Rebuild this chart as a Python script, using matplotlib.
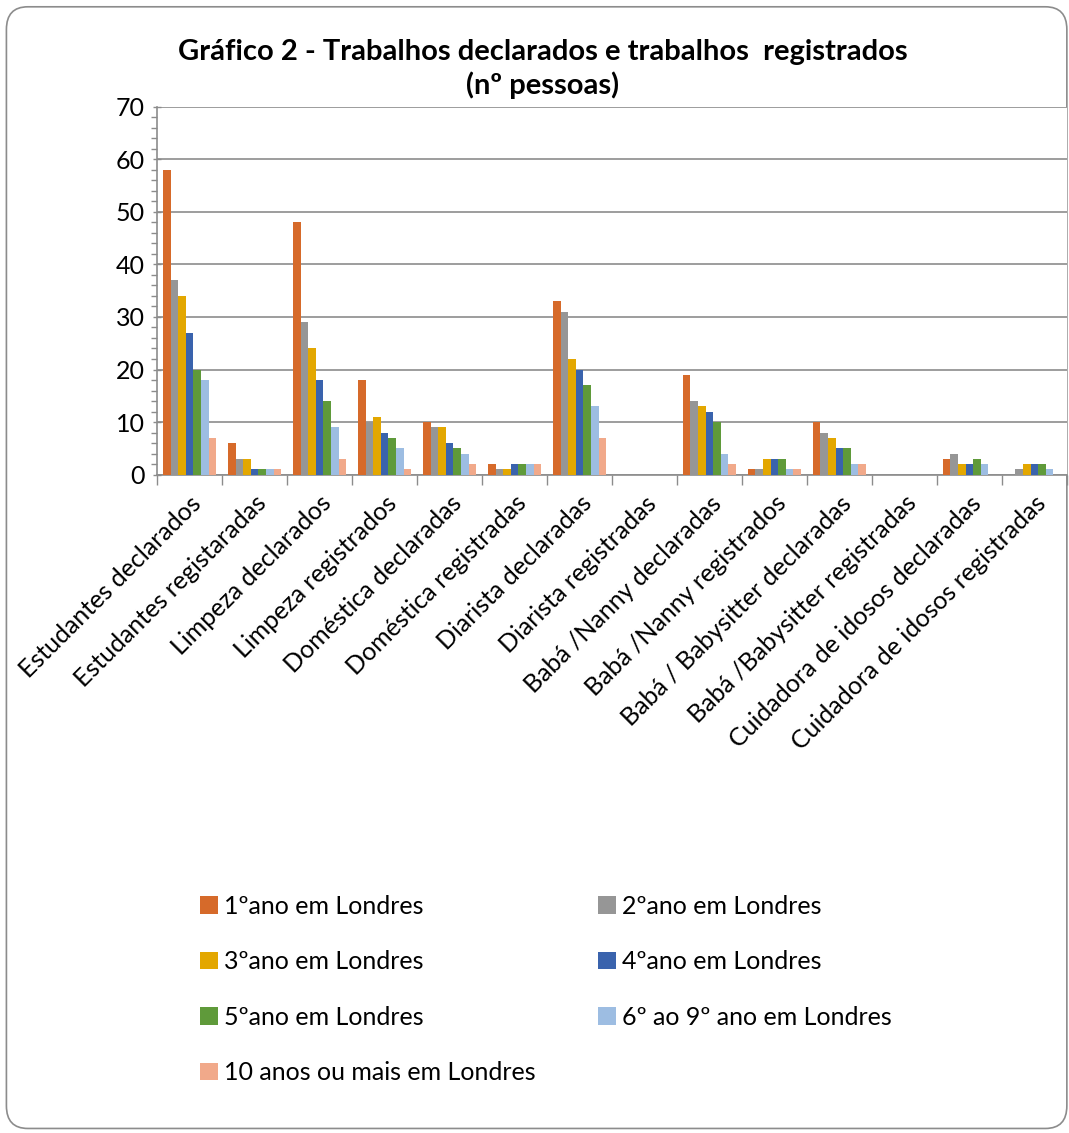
import matplotlib.pyplot as plt
import numpy as np
from matplotlib.patches import FancyBboxPatch

categorias = ["Estudantes declarados", "Estudantes registaradas", "Limpeza declarados",
              "Limpeza registrados", "Doméstica declaradas", "Doméstica registradas",
              "Diarista declaradas", "Diarista registradas", "Babá /Nanny declaradas",
              "Babá /Nanny registrados", "Babá / Babysitter declaradas",
              "Babá /Babysitter registradas", "Cuidadora de idosos declaradas",
              "Cuidadora de idosos registradas"]

series = ["1ºano em Londres", "2ºano em Londres", "3ºano em Londres", "4ºano em Londres",
          "5ºano em Londres", "6º ao 9º ano em Londres", "10 anos ou mais em Londres"]

ano1 = [58, 6, 48, 18, 10, 2, 33, 0, 19, 1, 10, 0, 3, 0]
ano2 = [37, 3, 29, 10, 9, 1, 31, 0, 14, 1, 8, 0, 4, 1]
ano3 = [34, 3, 24, 11, 9, 1, 22, 0, 13, 3, 7, 0, 2, 2]
ano4 = [27, 1, 18, 8, 6, 2, 20, 0, 12, 3, 5, 0, 2, 2]
ano5 = [20, 1, 14, 7, 5, 2, 17, 0, 10, 3, 5, 0, 3, 2]
ano6_9 = [18, 1, 9, 5, 4, 2, 13, 0, 4, 1, 2, 0, 2, 1]
ano10 = [7, 1, 3, 1, 2, 2, 7, 0, 2, 1, 2, 0, 0, 0]

valores = [ano1, ano2, ano3, ano4, ano5, ano6_9, ano10]
cores = ["#D66A2A", "#969696", "#E3A700", "#3A63AD", "#5F9A3A", "#9DBDE2", "#F1A98A"]

plt.rcParams['font.family'] = ['Lato', 'DejaVu Sans']

fig = plt.figure(figsize=(10.69, 11.33), dpi=100)
fig.patches.append(FancyBboxPatch((0.006, 0.004), 0.992, 0.99,
                                  boxstyle="round,pad=0,rounding_size=0.02",
                                  transform=fig.transFigure, fc="white",
                                  ec="#8c8c8c", lw=1.2, zorder=-1))

ax = fig.add_axes([0.147, 0.581, 0.851, 0.325])
x = np.arange(len(categorias))
w = 0.117
handles = []
for i, (vals, cor) in enumerate(zip(valores, cores)):
    b = ax.bar(x + (i - 3) * w, vals, w, color=cor, label=series[i], zorder=3)
    handles.append(b)

ax.set_xlim(-0.5, len(categorias) - 0.5)
ax.set_ylim(0, 70)
ax.set_yticks(range(0, 71, 10))
ax.set_yticks(range(0, 71, 2), minor=True)
ax.yaxis.grid(True, color="#8c8c8c", lw=1.2, zorder=0)
ax.tick_params(axis="y", which="major", length=6, width=1, color="#8c8c8c", labelsize=18, pad=6)
ax.tick_params(axis="y", which="minor", length=4, width=1, color="#8c8c8c")
ax.tick_params(axis="y", direction="inout")

ax.set_xticks(x)
ax.set_xticklabels(categorias, rotation=45, ha="right", rotation_mode="anchor", fontsize=18)
ax.set_xticks(np.arange(-0.5, len(categorias), 1), minor=True)
ax.tick_params(axis="x", which="major", length=0, pad=12)
ax.tick_params(axis="x", which="minor", length=7, width=1, color="#8c8c8c")

for s in ["top", "right"]:
    ax.spines[s].set_visible(False)
ax.spines["left"].set_color("#8c8c8c")
ax.spines["bottom"].set_color("#8c8c8c")
ax.spines["left"].set_linewidth(1.2)
ax.spines["bottom"].set_linewidth(1.2)

fig.text(0.508, 0.939, "Gráfico 2 - Trabalhos declarados e trabalhos  registrados\n(nº pessoas)",
         ha="center", va="center", fontsize=21, fontweight="bold", linespacing=1.3)

ordem = [0, 2, 4, 6, 1, 3, 5]
fig.legend([handles[i] for i in ordem], [series[i] for i in ordem], ncol=2,
           loc="upper left", bbox_to_anchor=(0.178, 0.219), frameon=False,
           fontsize=18, handlelength=0.7, handleheight=0.7, handletextpad=0.25,
           columnspacing=2.5, labelspacing=1.3, borderaxespad=0)

fig.savefig("out.png", dpi=100)
